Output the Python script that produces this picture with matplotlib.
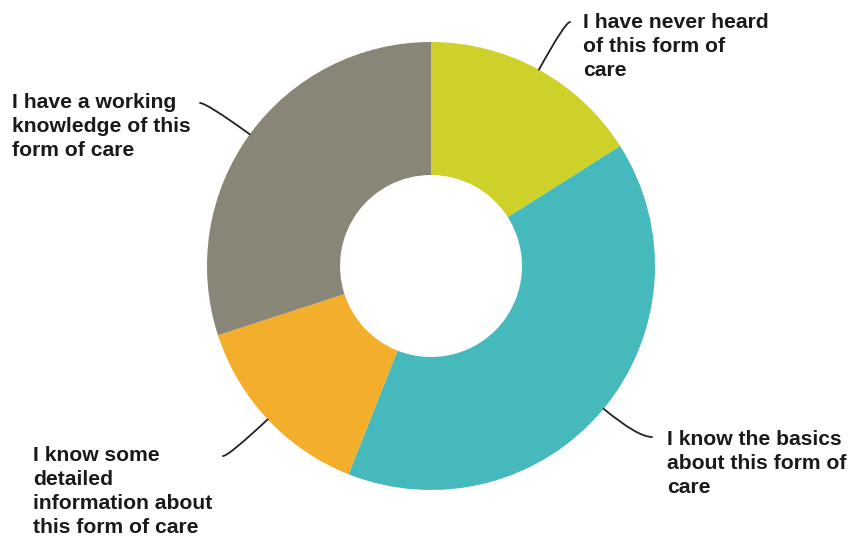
import numpy as np
import matplotlib.pyplot as plt

labels = [
    "I have never heard\nof this form of\ncare",
    "I know the basics\nabout this form of\ncare",
    "I know some\ndetailed\ninformation about\nthis form of care",
    "I have a working\nknowledge of this\nform of care",
]
shares = [16, 40, 14, 30]
colors = ["#CDD12A", "#46B9BD", "#F3AE2C", "#898677"]

W, H = 851, 538
fig = plt.figure(figsize=(W / 100, H / 100), dpi=100)
ax = fig.add_axes([0, 0, 1, 1])

cx, cy, R = 431, H - 266, 224
wedges, _ = ax.pie(shares, colors=colors, startangle=90, counterclock=False,
                   center=(cx, cy), radius=R, frame=True,
                   wedgeprops=dict(width=R - 91, linewidth=0))
ax.set_xlim(0, W)
ax.set_ylim(0, H)
ax.set_aspect("equal")
ax.axis("off")

# label text anchor (top-left of block) and leader end point, in pixels from top
layout = [
    dict(text=(583, 13), end=(570, 22)),
    dict(text=(667, 430), end=(652, 437)),
    dict(text=(33, 446), end=(223, 456)),
    dict(text=(12, 93), end=(200, 103)),
]

for w, lab, lay in zip(wedges, labels, layout):
    mid = np.deg2rad((w.theta1 + w.theta2) / 2)
    px = w.center[0] + w.r * np.cos(mid)
    py = w.center[1] + w.r * np.sin(mid)
    ex, ey = lay["end"][0], H - lay["end"][1]
    ang = np.rad2deg(mid) % 180
    ax.annotate("", xy=(px, py), xytext=(ex, ey),
                arrowprops=dict(arrowstyle="-", color="#222222", lw=1.3,
                                shrinkA=0, shrinkB=0,
                                connectionstyle=f"angle3,angleA=0,angleB={ang:.1f}"))
    ax.text(lay["text"][0], H - lay["text"][1], lab, ha="left", va="top",
            fontsize=15.2, fontweight="bold", family="Liberation Sans",
            color="#1a1a1a", linespacing=1.33)

fig.savefig("out.png", dpi=100)
